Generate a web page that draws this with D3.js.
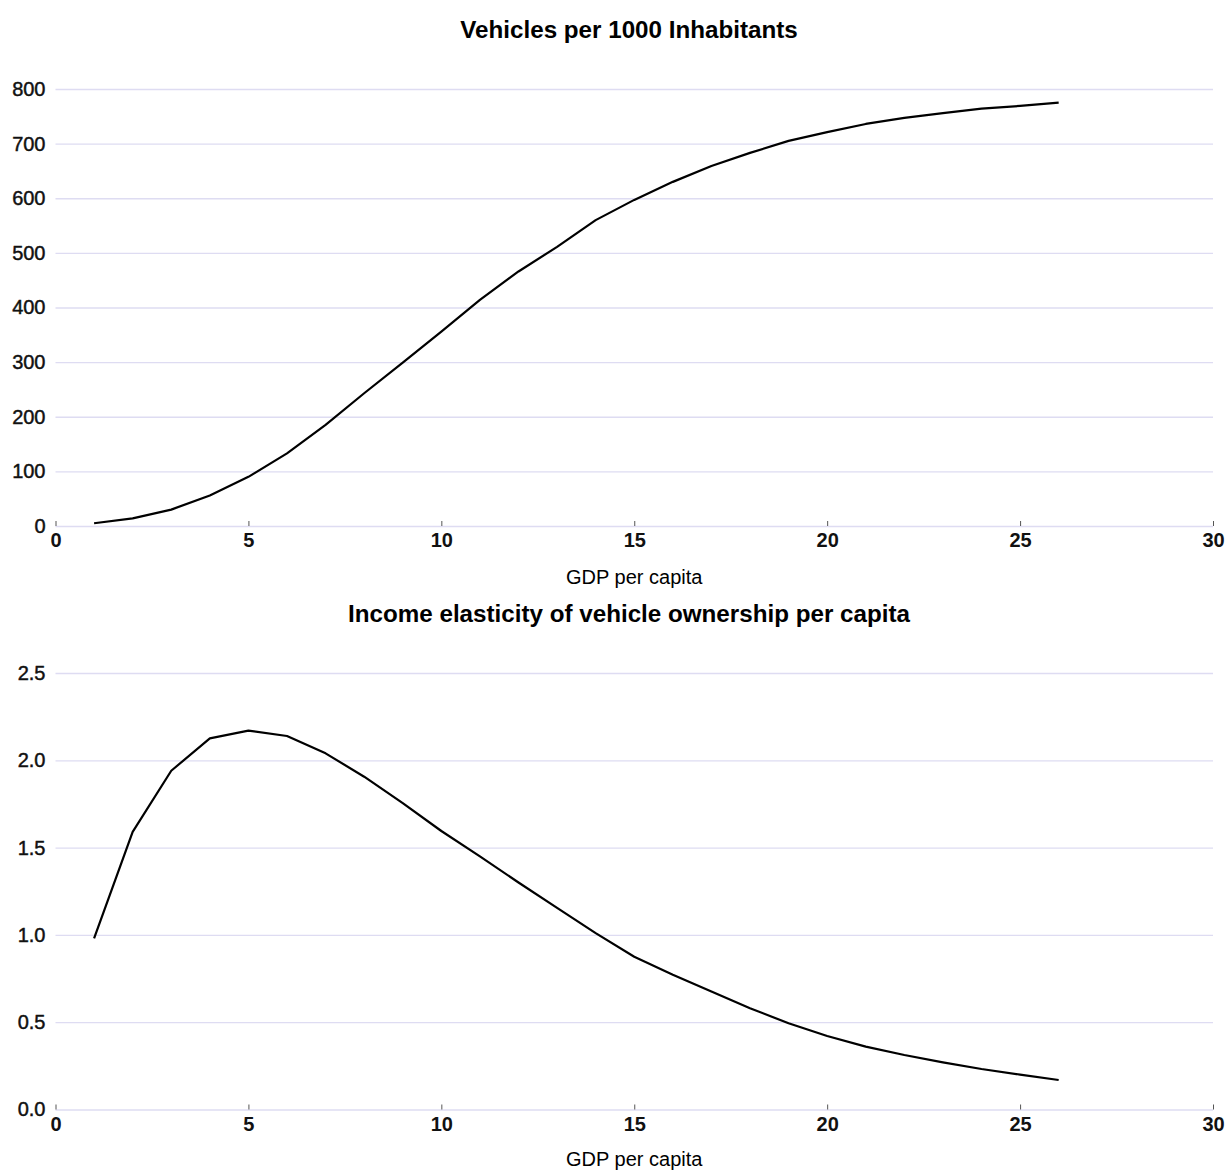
<!DOCTYPE html>
<meta charset="utf-8">
<script src="https://d3js.org/d3.v7.min.js"></script>
<style>
  body { margin: 0; background: #fff; }
  text { font-family: "Liberation Sans", Arial, sans-serif; }
</style>
<div id="chart"></div>
<script>
// GDP per capita (x) shared by both panels
const gdp = [1, 2, 3, 4, 5, 6, 7, 8, 9, 10, 11, 12, 13, 14, 15, 16, 17, 18, 19, 20, 21, 22, 23, 24, 25, 26];

// Vehicles per 1000 inhabitants
const vehicles = [5, 14, 30, 56, 90, 133, 185, 243, 299, 356, 414, 466, 511, 560, 597, 630, 659, 683, 705, 721, 736, 747, 756, 764, 769, 775];

// Income elasticity of vehicle ownership
const elasticity = [0.98, 1.59, 1.94, 2.126, 2.17, 2.139, 2.04, 1.906, 1.755, 1.595, 1.45, 1.30, 1.155, 1.01, 0.875, 0.772, 0.676, 0.58, 0.494, 0.421, 0.36, 0.312, 0.270, 0.232, 0.2, 0.169];

const xTicks = [0, 5, 10, 15, 20, 25, 30];
const vehTicks = [0, 100, 200, 300, 400, 500, 600, 700, 800];
const elaTicks = [0, 0.5, 1.0, 1.5, 2.0, 2.5];

const panels = [
  { title: "Vehicles per 1000 Inhabitants", values: vehicles, ticks: vehTicks, domain: [0, 800], fmt: d3.format("d"),
    top: 89, bottom: 526, titleY: 38, labelY: 584 },
  { title: "Income elasticity of vehicle ownership per capita", values: elasticity, ticks: elaTicks, domain: [0, 2.5], fmt: d3.format(".1f"),
    top: 673, bottom: 1109.5, titleY: 622, labelY: 1166 }
];

const W = 1228, H = 1170;
const left = 55.5, right = 1213;

const svg = d3.select("#chart").append("svg")
  .attr("width", W)
  .attr("height", H);

const x = d3.scaleLinear().domain([0, 30]).range([left, right]);

panels.forEach(function (p) {
  const y = d3.scaleLinear().domain(p.domain).range([p.bottom, p.top]);
  const g = svg.append("g");

  // gridlines + y labels
  const yAxis = g.append("g")
    .attr("transform", "translate(" + left + ",0)")
    .call(d3.axisLeft(y).tickValues(p.ticks).tickFormat(p.fmt)
      .tickSize(-(right - left)).tickPadding(10));
  yAxis.select(".domain").remove();
  yAxis.selectAll(".tick line").attr("stroke", "#dedcf2").attr("stroke-width", 1.3);
  yAxis.selectAll(".tick text")
    .attr("fill", "#111")
    .attr("stroke", "#111")
    .attr("stroke-width", 0.45)
    .style("font-size", "20px");

  // x ticks (short marks pointing up) + bold labels
  const xAxis = g.append("g")
    .attr("transform", "translate(0," + p.bottom + ")")
    .call(d3.axisBottom(x).tickValues(xTicks).tickFormat(d3.format("d"))
      .tickSize(-5).tickPadding(7));
  xAxis.select(".domain").remove();
  xAxis.selectAll(".tick line").attr("stroke", "#555");
  xAxis.selectAll(".tick text")
    .attr("fill", "#111")
    .style("font-size", "20px")
    .style("font-weight", "bold");

  // the curve
  const line = d3.line()
    .x(function (d, i) { return x(gdp[i]); })
    .y(function (d) { return y(d); });

  g.append("path")
    .datum(p.values)
    .attr("d", line)
    .attr("fill", "none")
    .attr("stroke", "#000")
    .attr("stroke-width", 2.2)
    .attr("stroke-linejoin", "round");

  // title
  g.append("text")
    .attr("x", 629)
    .attr("y", p.titleY)
    .attr("text-anchor", "middle")
    .style("font-size", "24.2px")
    .style("font-weight", "bold")
    .attr("fill", "#000")
    .text(p.title);

  // x axis label
  g.append("text")
    .attr("x", (left + right) / 2)
    .attr("y", p.labelY)
    .attr("text-anchor", "middle")
    .style("font-size", "20px")
    .attr("fill", "#000")
    .text("GDP per capita");
});
</script>
